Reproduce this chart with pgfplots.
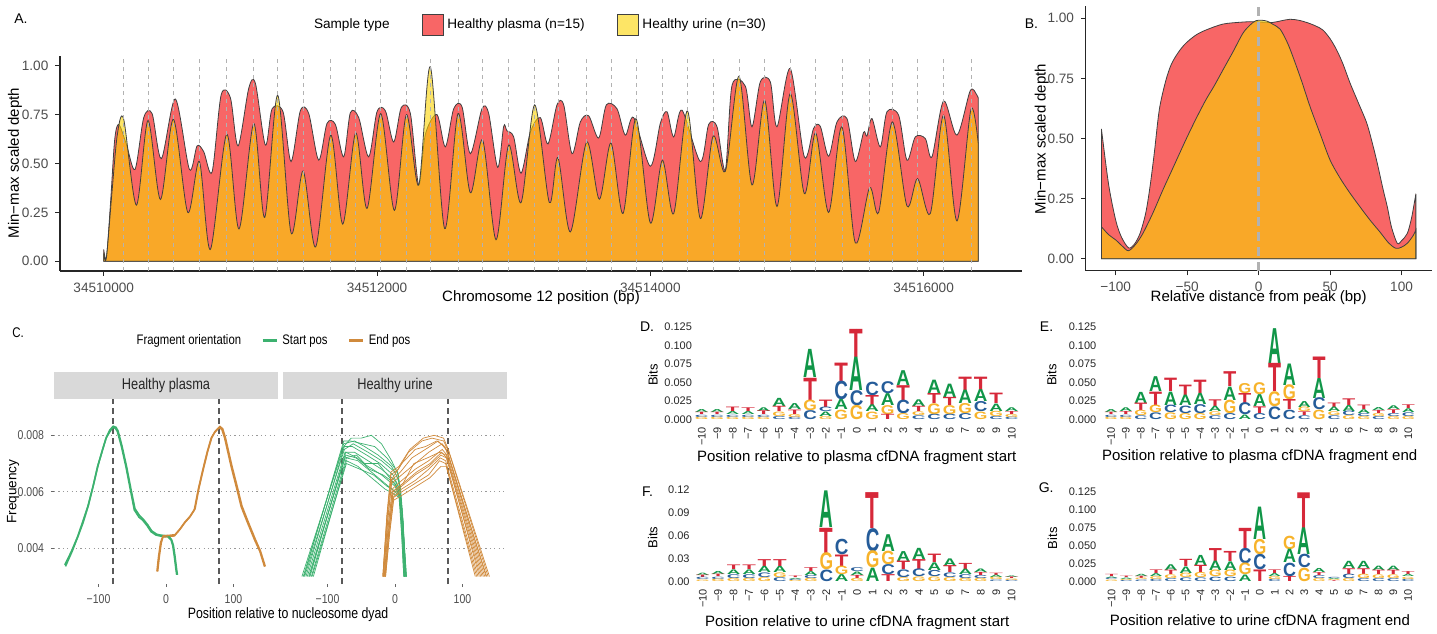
\documentclass[border=0pt]{standalone}
\usepackage{pgfplots}
\pgfplotsset{compat=1.18}
\usepackage{pgfplotstable}
\usepackage{graphicx}
\usepackage{fontspec}
\setmainfont{Liberation Sans}
\newfontfamily\cond[FakeStretch=0.82]{Liberation Sans}
\newcommand\fs[1]{\fontsize{#1}{#1}\selectfont}
\definecolor{plasma}{RGB}{248,102,102}
\definecolor{urine}{RGB}{251,212,0}
\definecolor{outl}{RGB}{64,64,64}
\definecolor{tickg}{RGB}{77,77,77}
\definecolor{colA}{RGB}{16,150,72}
\definecolor{colC}{RGB}{37,92,153}
\definecolor{colG}{RGB}{247,179,43}
\definecolor{colT}{RGB}{214,40,57}
\definecolor{sgreen}{RGB}{60,177,111}
\definecolor{sorange}{RGB}{208,138,60}
\definecolor{stripc}{RGB}{217,217,217}
\newdimen\bitunit
\def\letw{6.8pt}
\def\logoletter#1/#2\relax{\raisebox{-#2\bitunit}[0pt][0pt]{\textcolor{col#1}{\resizebox{\letw}{#2\bitunit}{\bfseries #1}}}}

% ---------------- Panel A data (x = position - 34510000) ----------------
\pgfplotstableread{
x y
0 0.06
20 0.02
50 0.30
80 0.62
110 0.70
165 0.60
229 0.47
293 0.735
354 0.755
422 0.525
524 0.83
627 0.47
683 0.59
732 0.56
793 0.457
859 0.85
927 0.836
983 0.59
1061 0.884
1110 0.91
1183 0.594
1232 0.78
1312 0.765
1371 0.51
1439 0.77
1500 0.756
1573 0.517
1634 0.705
1695 0.70
1756 0.534
1805 0.76
1866 0.735
1939 0.534
2000 0.765
2061 0.77
2122 0.61
2178 0.787
2244 0.756
2305 0.39
2354 0.65
2439 0.75
2500 0.585
2561 0.78
2622 0.79
2683 0.55
2768 0.78
2817 0.756
2883 0.48
2927 0.69
2951 0.667
3000 0.636
3054 0.45
3122 0.66
3195 0.735
3251 0.60
3317 0.80
3366 0.80
3427 0.55
3488 0.713
3549 0.744
3622 0.63
3678 0.80
3756 0.78
3817 0.645
3878 0.735
4000 0.486
4073 0.705
4122 0.765
4171 0.636
4232 0.773
4366 0.51
4427 0.70
4488 0.688
4549 0.466
4598 0.90
4695 0.896
4744 0.688
4805 0.918
4878 0.918
4927 0.688
5024 0.986
5127 0.534
5195 0.68
5244 0.69
5305 0.537
5366 0.713
5439 0.73
5500 0.51
5561 0.66
5585 0.64
5622 0.73
5683 0.585
5732 0.765
5817 0.747
5878 0.517
5939 0.636
6012 0.628
6061 0.534
6146 0.82
6244 0.645
6341 0.872
6390 0.85
6400 0.833
}\plasmaA

\pgfplotstableread{
x y
0 0.04
20 0.02
60 0.35
100 0.65
146 0.727
239 0.287
324 0.72
415 0.316
510 0.727
615 0.25
700 0.51
780 0.06
900 0.65
990 0.165
1098 0.705
1178 0.224
1273 0.85
1371 0.145
1459 0.462
1551 0.073
1661 0.645
1749 0.19
1844 0.657
1927 0.27
2027 0.756
2127 0.26
2215 0.75
2305 0.39
2390 0.995
2495 0.167
2593 0.756
2683 0.35
2773 0.62
2871 0.11
2963 0.594
3054 0.30
3154 0.80
3261 0.30
3324 0.53
3415 0.15
3534 0.61
3627 0.317
3712 0.605
3800 0.244
3895 0.73
4000 0.196
4088 0.517
4171 0.244
4271 0.77
4366 0.218
4459 0.64
4549 0.46
4649 0.947
4744 0.39
4837 0.824
4927 0.28
5024 0.858
5127 0.346
5210 0.657
5305 0.25
5402 0.688
5500 0.094
5605 0.377
5671 0.25
5771 0.713
5878 0.283
5956 0.423
6049 0.244
6146 0.747
6244 0.206
6346 0.776
6400 0.60
}\urineA

% ---------------- Logo data: height and letter/height, bottom to top ----------------
\pgfplotstableread{
x h1 m1 h2 m2 h3 m3 h4 m4
-10 .003 G/.003 .003 C/.003 .003 T/.003 .004 A/.004
-9 .003 G/.003 .003 C/.003 .003 T/.003 .004 A/.004
-8 .003 G/.003 .003 C/.003 .004 A/.004 .006 T/.006
-7 .003 G/.003 .003 C/.003 .004 A/.004 .005 T/.005
-6 .003 G/.003 .003 C/.003 .005 T/.005 .005 A/.005
-5 .004 C/.004 .006 G/.006 .007 T/.007 .011 A/.011
-4 .003 C/.003 .004 G/.004 .006 T/.006 .008 A/.008
-3 .012 C/.012 .014 G/.014 .030 T/.030 .038 A/.038
-2 .004 G/.004 .006 A/.006 .006 C/.006 .010 T/.010
-1 .0126 G/.0126 .0135 A/.0135 .0248 C/.0248 .0248 T/.0248
0 .019 G/.019 .020 C/.020 .045 A/.045 .038 T/.038
1 .010 G/.010 .009 A/.009 .0135 T/.0135 .018 C/.018
2 .007 T/.007 .012 G/.012 .016 A/.016 .016 C/.016
3 .008 G/.008 .018 C/.018 .020 T/.020 .020 A/.020
4 .005 C/.005 .005 G/.005 .007 T/.007 .009 A/.009
5 .007 C/.007 .0145 G/.0145 .0135 T/.0135 .018 A/.018
6 .007 C/.007 .012 G/.012 .011 T/.011 .018 A/.018
7 .008 C/.008 .0135 G/.0135 .018 A/.018 .018 T/.018
8 .010 G/.010 .0135 C/.0135 .016 A/.016 .018 T/.018
9 .004 C/.004 .007 G/.007 .010 A/.010 .014 T/.014
10 .003 C/.003 .004 G/.004 .004 T/.004 .005 A/.005
}\tabD

\pgfplotstableread{
x h1 m1 h2 m2 h3 m3 h4 m4
-10 .003 G/.003 .003 C/.003 .003 T/.003 .004 A/.004
-9 .003 G/.003 .003 C/.003 .004 T/.004 .005 A/.005
-8 .005 C/.005 .007 G/.007 .010 T/.010 .015 A/.015
-7 .009 C/.009 .010 G/.010 .018 T/.018 .020 A/.020
-6 .009 G/.009 .010 C/.010 .018 A/.018 .018 T/.018
-5 .008 G/.008 .010 C/.010 .014 A/.014 .014 T/.014
-4 .008 G/.008 .012 C/.012 .015 A/.015 .018 T/.018
-3 .005 C/.005 .005 G/.005 .007 A/.007 .009 T/.009
-2 .008 C/.008 .018 G/.018 .018 A/.018 .020 T/.020
-1 .006 A/.006 .016 C/.016 .0135 T/.0135 .0135 G/.0135
0 .008 C/.008 .009 T/.009 .016 A/.016 .016 G/.016
1 .017 C/.017 .020 G/.020 .038 T/.038 .047 A/.047
2 .0126 C/.0126 .0135 T/.0135 .020 G/.020 .029 A/.029
3 .005 C/.005 .005 T/.005 .006 G/.006 .008 A/.008
4 .0126 G/.0126 .016 C/.016 .027 A/.027 .029 T/.029
5 .005 C/.005 .005 G/.005 .006 A/.006 .006 T/.006
6 .005 G/.005 .006 C/.006 .008 A/.008 .009 T/.009
7 .004 G/.004 .004 C/.004 .005 A/.005 .006 T/.006
8 .004 C/.004 .004 G/.004 .004 T/.004 .004 A/.004
9 .004 G/.004 .004 C/.004 .005 T/.005 .005 A/.005
10 .004 G/.004 .005 C/.005 .005 A/.005 .005 T/.005
}\tabE

\pgfplotstableread{
x h1 m1 h2 m2 h3 m3 h4 m4
-10 .002 G/.002 .003 C/.003 .003 T/.003 .003 A/.003
-9 .003 G/.003 .003 C/.003 .003 T/.003 .004 A/.004
-8 .004 G/.004 .005 C/.005 .006 A/.006 .006 T/.006
-7 .004 G/.004 .005 C/.005 .006 A/.006 .006 T/.006
-6 .005 G/.005 .006 C/.006 .008 A/.008 .009 T/.009
-5 .005 C/.005 .006 G/.006 .008 A/.008 .009 T/.009
-4 .0015 G/.0015 .0015 C/.0015 .0015 A/.0015 .002 T/.002
-3 .004 G/.004 .004 C/.004 .005 A/.005 .005 T/.005
-2 .015 C/.015 .022 G/.022 .033 T/.033 .048 A/.048
-1 .009 A/.009 .011 G/.011 .015 T/.015 .020 C/.020
0 .004 G/.004 .004 T/.004 .0045 A/.0045 .005 C/.005
1 .0175 A/.0175 .022 G/.022 .030 C/.030 .047 T/.047
2 .009 T/.009 .013 C/.013 .0175 G/.0175 .022 A/.022
3 .005 G/.005 .010 C/.010 .011 T/.011 .013 A/.013
4 .006 G/.006 .010 C/.010 .013 T/.013 .0146 A/.0146
5 .006 G/.006 .008 C/.008 .010 A/.010 .011 T/.011
6 .005 G/.005 .006 C/.006 .009 T/.009 .010 A/.010
7 .004 G/.004 .005 C/.005 .007 A/.007 .008 T/.008
8 .004 G/.004 .004 C/.004 .004 T/.004 .0046 A/.0046
9 .002 C/.002 .003 G/.003 .003 A/.003 .003 T/.003
10 .0015 C/.0015 .002 G/.002 .002 T/.002 .002 A/.002
}\tabF

\pgfplotstableread{
x h1 m1 h2 m2 h3 m3 h4 m4
-10 .002 G/.002 .002 C/.002 .002 A/.002 .003 T/.003
-9 .0015 C/.0015 .0015 G/.0015 .002 A/.002 .002 T/.002
-8 .002 C/.002 .002 G/.002 .003 T/.003 .003 A/.003
-7 .003 C/.003 .004 G/.004 .004 A/.004 .005 T/.005
-6 .004 C/.004 .005 G/.005 .006 T/.006 .008 A/.008
-5 .005 C/.005 .006 G/.006 .009 A/.009 .010 T/.010
-4 .005 C/.005 .007 G/.007 .010 T/.010 .014 A/.014
-3 .006 C/.006 .009 G/.009 .013 A/.013 .018 T/.018
-2 .006 C/.006 .009 G/.009 .012 A/.012 .014 T/.014
-1 .009 A/.009 .016 G/.016 .021 C/.021 .028 T/.028
0 .016 T/.016 .021 C/.021 .021 G/.021 .045 A/.045
1 .003 C/.003 .004 G/.004 .004 A/.004 .005 T/.005
2 .007 T/.007 .0185 C/.0185 .0185 A/.0185 .0185 G/.0185
3 .0185 G/.0185 .0185 C/.0185 .037 A/.037 .0495 T/.0495
4 .004 G/.004 .004 C/.004 .004 T/.004 .0056 A/.0056
5 .001 T/.001 .0015 G/.0015 .0015 A/.0015 .0016 C/.0016
6 .004 G/.004 .006 C/.006 .008 T/.008 .010 A/.010
7 .004 C/.004 .006 G/.006 .008 T/.008 .010 A/.010
8 .004 C/.004 .005 G/.005 .006 T/.006 .006 A/.006
9 .004 C/.004 .005 G/.005 .006 T/.006 .006 A/.006
10 .003 C/.003 .003 G/.003 .003 A/.003 .004 T/.004
}\tabG

\pgfplotsset{
  classic/.style={scale only axis, anchor=south west,
    axis x line*=bottom, axis y line*=left,
    axis line style={-, line width=0.55pt, draw=black!85},
    tick align=outside, major tick length=2.3pt,
    tick style={black!85, line width=0.5pt},
    tick label style={font=\fs{6.8}, text=tickg},
    label style={font=\fs{7.5}},
    ymin=-0.05, ymax=1.05, ytick={0,0.25,0.5,0.75,1},
    yticklabels={0.00,0.25,0.50,0.75,1.00},
    axis on top},
  cpanel/.style={scale only axis, anchor=south west, width=112pt, height=92.5pt,
    xmin=-166, xmax=166, ymin=0.002736, ymax=0.009285,
    axis line style={draw=none}, tick align=outside, major tick length=1.5pt,
    tick style={black!60, line width=0.4pt},
    xtick={-100,0,100}, xticklabels={−100,0,100},
    ytick={0.004,0.006,0.008},
    xtick pos=bottom, ytick pos=left,
    tick label style={font=\cond\fs{6.4}, text=tickg},
    ymajorgrids,
    every axis y grid/.style={black!40, line width=0.45pt, dash pattern=on 0.6pt off 1.6pt},
    extra x ticks={-78.5,78.5}, extra x tick labels={},
    extra x tick style={grid=major, major tick length=0pt},
    every axis x grid/.style={black!65, line width=0.55pt, dash pattern=on 3pt off 2pt},
    every axis title/.style={at={(axis description cs:0.5,1)}, anchor=south, fill=stripc,
      minimum width=112pt, minimum height=13.15pt, inner sep=0pt, font=\cond\fs{7.8}, text=black!85}},
  pl/.style={line width=0.8pt},
  ul/.style={line width=0.35pt},
  logo/.style={scale only axis, anchor=south west, clip=false,
    axis line style={draw=none}, major tick length=0pt,
    xmin=-10.5, xmax=10.5, ymin=0,
    xtick={-10,-9,-8,-7,-6,-5,-4,-3,-2,-1,0,1,2,3,4,5,6,7,8,9,10},
    xticklabels={−10,−9,−8,−7,−6,−5,−4,−3,−2,−1,0,1,2,3,4,5,6,7,8,9,10},
    xticklabel style={font=\fs{5.5}, text=black!85, inner sep=0pt, yshift=-3.7pt, rotate=90, anchor=east},
    yticklabel style={font=\fs{5.5}, text=black!85, inner sep=0pt},
    xlabel style={font=\fs{7.5}, anchor=center},
    ylabel style={font=\fs{6.5}, anchor=center},
    stack plots=y},
  letters/.style={only marks, mark=*, mark size=0pt, mark options={draw=none, fill=none},
    point meta=explicit symbolic,
    nodes near coords={\edef\lmeta{\pgfplotspointmeta}\expandafter\logoletter\lmeta\relax},
    every node near coord/.style={inner sep=0pt, outer sep=0pt, anchor=center}},
}
\newcommand\logo[1]{%
  \addplot[letters] table[x=x, y=h1, meta=m1]{#1};
  \addplot[letters] table[x=x, y=h2, meta=m2]{#1};
  \addplot[letters] table[x=x, y=h3, meta=m3]{#1};
  \addplot[letters] table[x=x, y=h4, meta=m4]{#1};
}

\begin{document}
\begin{tikzpicture}
\path[use as bounding box] (0,0) rectangle (718.5pt,316.5pt);

% ================= Panel A =================
\begin{axis}[classic, at={(30pt,181pt)}, width=481pt, height=107.5pt,
  xmin=-320, xmax=6720,
  xtick={0,2000,4000,6000}, xticklabels={34510000,34512000,34514000,34516000},
  xlabel={Chromosome 12 position (bp)}, ylabel={Min−max scaled depth},
  xlabel style={at={(axis description cs:0.5,-0.1256)}, anchor=center},
  ylabel style={at={(axis description cs:-0.0468,0.502)}, anchor=center},
  extra x ticks={146,325,510,700,900,1098,1273,1459,1661,1844,2027,2215,2390,2593,2773,2963,3154,3325,3534,3713,3896,4088,4271,4459,4649,4837,5024,5210,5403,5605,5771,5956,6146,6347},
  extra x tick labels={},
  extra x tick style={grid=major, major tick length=0pt},
  every axis x grid/.style={gray!60, line width=0.4pt, dash pattern=on 2pt off 2pt},
  legend style={at={(0.499,1.144)}, anchor=center, draw=none, fill=none,
    legend columns=3, font=\fs{6.8},
    /tikz/every even column/.append style={column sep=14pt}},
  legend image code/.code={\draw[#1, draw=outl, line width=0.4pt] (0pt,-5.25pt) rectangle (10.5pt,5.25pt);},
]
\addlegendimage{empty legend}\addlegendentry{Sample type}
\addplot[fill=plasma, draw=outl, line width=0.4pt, smooth] table {\plasmaA} \closedcycle;
\addlegendentry{Healthy plasma (n=15)}
\addplot[fill=urine, fill opacity=0.6, draw=outl, line width=0.4pt, smooth] table {\urineA} \closedcycle;
\addlegendentry{Healthy urine (n=30)}
\end{axis}

% ================= Panel B =================
\begin{axis}[classic, at={(542.85pt,181.15pt)}, width=172.95pt, height=132.2pt,
  xmin=-121, xmax=121,
  xtick={-100,-50,0,50,100}, xticklabels={−100,−50,0,50,100},
  xlabel={Relative distance from peak (bp)}, ylabel={Min−max scaled depth},
  xlabel style={at={(axis description cs:0.5,-0.103)}, anchor=center},
  ylabel style={at={(axis description cs:-0.127,0.498)}, anchor=center},
  extra x ticks={0}, extra x tick labels={},
  extra x tick style={grid=major, major tick length=0pt},
  every axis x grid/.style={gray!60, line width=1.4pt, dash pattern=on 4.5pt off 3pt},
]
\addplot[fill=plasma, draw=outl, line width=0.4pt, smooth] coordinates {
(-110,0.54) (-105,0.31) (-100,0.16) (-96,0.09) (-91,0.045) (-87,0.06) (-83,0.105) (-79,0.19)
(-76,0.30) (-73,0.44) (-69.5,0.62) (-65,0.74) (-61,0.81) (-56,0.86) (-51,0.896) (-44,0.93)
(-37,0.951) (-25,0.976) (-12,0.984) (-4,0.986) (3,0.984) (10,0.983) (16,0.99) (22,0.996)
(28,0.992) (34,0.982) (40,0.968) (45,0.951) (50,0.915) (54.6,0.868) (59,0.81) (64,0.73)
(70,0.645) (75.7,0.563) (80,0.47) (83,0.397) (87,0.29) (90,0.216) (93,0.13) (97,0.064)
(100,0.075) (104,0.105) (107,0.17) (110,0.27)} \closedcycle;
\addplot[fill=urine, fill opacity=0.6, draw=outl, line width=0.4pt, smooth] coordinates {
(-110,0.133) (-105,0.10) (-100,0.078) (-95,0.05) (-91,0.033) (-86,0.06) (-81,0.105) (-74,0.19)
(-67,0.286) (-59,0.39) (-51,0.494) (-44,0.58) (-37,0.66) (-31,0.72) (-25,0.785) (-18,0.86)
(-11,0.938) (-6,0.972) (-2,0.99) (2,0.992) (6,0.988) (10,0.975) (15,0.955) (20,0.90)
(24,0.84) (30,0.74) (36,0.632) (43,0.52) (50,0.41) (57,0.335) (64,0.272) (71,0.215)
(78,0.16) (85,0.11) (91,0.065) (96,0.043) (100,0.048) (104,0.064) (108,0.095) (110,0.12)} \closedcycle;
\end{axis}

% ================= Panel C: plasma =================
\begin{axis}[cpanel, at={(27pt,24.5pt)},
  yticklabels={0.004,0.006,0.008},
  title={Healthy plasma},
  ylabel={Frequency}, ylabel style={font=\fs{6.8}, at={(axis description cs:-0.183,0.499)}, anchor=center},
  xlabel={Position relative to nucleosome dyad},
  xlabel style={font=\cond\fs{7.5}, at={(axis description cs:1.045,-0.168)}, anchor=center},
  legend style={at={(0.98,1.315)}, anchor=center, draw=none, fill=none,
    legend columns=3, font=\cond\fs{6.9},
    /tikz/every even column/.append style={column sep=8pt}},
  legend image code/.code={\draw[#1, line width=1.6pt] (0pt,0pt) -- (7pt,0pt);},
]
\addlegendimage{empty legend}\addlegendentry{Fragment orientation}
\addplot[sgreen, pl] coordinates {
(-150,0.00341) (-140,0.0039) (-131,0.00441) (-124,0.0049) (-116,0.00547) (-108,0.0062)
(-101.5,0.00689) (-95,0.0074) (-89,0.00789) (-84,0.0081) (-79,0.00828) (-75,0.00825)
(-72,0.00813) (-66,0.0076) (-59.4,0.00689) (-53,0.0061) (-47,0.00536) (-40,0.0051)
(-34.7,0.0050) (-28,0.0048) (-22.3,0.00459) (-15,0.00447) (-10,0.00444) (-3,0.00442)
(2.5,0.00441) (7.4,0.0043) (10,0.0041) (12.4,0.00371) (14.5,0.0033) (15.9,0.00306)};
\addlegendentry{Start pos}
\addplot[sorange, pl] coordinates {
(-13.4,0.00318) (-11,0.0037) (-8,0.0042) (-5,0.0044) (0,0.00441) (5,0.00442) (12.4,0.00444)
(20,0.00465) (27.2,0.00489) (35,0.0051) (42,0.00536) (48,0.0061) (54.5,0.00677) (61,0.0074)
(66.9,0.00789) (72,0.0081) (79,0.00828) (83,0.0082) (87,0.0079) (96.6,0.00689) (104,0.0062)
(111.5,0.00547) (121,0.0049) (131.3,0.0043) (139,0.0039) (146.1,0.00335)};
\addlegendentry{End pos}
\addplot[sgreen, pl, forget plot] coordinates {
(-149,0.00336) (-139,0.0039) (-130,0.00445) (-123,0.0049) (-115,0.00552) (-107,0.0063)
(-100.5,0.00695) (-94,0.0075) (-88,0.00795) (-83,0.0082) (-78,0.00832) (-74,0.00828)
(-71,0.00815) (-65,0.0076) (-58.4,0.00689) (-52,0.0061) (-46,0.0054) (-39,0.00515)
(-33.7,0.00503) (-27,0.00483) (-21.3,0.00462) (-14,0.0045) (-9,0.00447) (-2,0.00445)
(3.5,0.00444) (8.4,0.0043) (11,0.0041) (13.4,0.00371) (15.5,0.0033) (16.9,0.00306)};
\addplot[sorange, pl, forget plot] coordinates {
(-12.4,0.00318) (-10,0.0037) (-7,0.0042) (-4,0.00444) (1,0.00445) (6,0.00446) (13.4,0.00448)
(21,0.00469) (28.2,0.00493) (36,0.00514) (43,0.0054) (49,0.00615) (55.5,0.00682) (62,0.00745)
(67.9,0.00793) (73,0.00814) (80,0.00831) (84,0.00823) (88,0.00792) (97.6,0.00692) (105,0.00623)
(112.5,0.0055) (122,0.00492) (132.3,0.00432) (140,0.0039) (147.1,0.00336)};
\end{axis}

% ================= Panel C: urine =================
\begin{axis}[cpanel, at={(141.5pt,24.5pt)},
  yticklabels={}, ytick style={draw=none},
  title={Healthy urine},
]
\addplot[sgreen, ul] coordinates {(-138,0.0030) (-76,0.0076) (-65,0.0079) (-50,0.0079) (-35,0.0080) (-20,0.0077) (-5,0.0071) (5,0.0066) (10,0.0055) (17,0.0030)};
\addplot[sgreen, ul] coordinates {(-134,0.0030) (-75,0.0075) (-62,0.0077) (-40,0.0074) (-20,0.0071) (0,0.0067) (8,0.0062) (12,0.0050) (16,0.0030)};
\addplot[sgreen, ul] coordinates {(-130,0.0030) (-74,0.0074) (-60,0.0074) (-40,0.0071) (-20,0.0068) (0,0.0064) (8,0.0060) (12,0.0048) (15,0.0030)};
\addplot[sgreen, ul] coordinates {(-127,0.0030) (-73,0.0073) (-58,0.0072) (-40,0.0069) (-20,0.0066) (0,0.0062) (7,0.0058) (11,0.0046) (14,0.0030)};
\addplot[sgreen, ul] coordinates {(-124,0.0030) (-72,0.0072) (-55,0.0071) (-35,0.0067) (-15,0.0063) (0,0.0060) (7,0.0058) (11,0.0045) (14,0.0030)};
\addplot[sgreen, ul] coordinates {(-121,0.0030) (-72,0.0071) (-55,0.0069) (-35,0.0065) (-15,0.0061) (0,0.0059) (6,0.0058) (10,0.0044) (13,0.0030)};
\addplot[sgreen, ul] coordinates {(-136,0.0030) (-76,0.0077) (-60,0.0078) (-45,0.0076) (-25,0.0073) (-5,0.0069) (6,0.0064) (11,0.0052) (16,0.0030)};
\addplot[sgreen, ul] coordinates {(-128,0.0030) (-74,0.0072) (-57,0.0073) (-45,0.0070) (-25,0.0070) (-8,0.0065) (5,0.0061) (10,0.0049) (15,0.0030)};
\addplot[sgreen, ul] coordinates {(-132,0.0030) (-75,0.0076) (-63,0.0076) (-42,0.0073) (-22,0.0070) (-3,0.0066) (7,0.0061) (12,0.0049) (16,0.0030)};
\addplot[sgreen, ul] coordinates {(-126,0.0030) (-73,0.0074) (-56,0.0072) (-38,0.0068) (-18,0.0066) (0,0.0063) (7,0.0059) (11,0.0047) (14,0.0030)};
\addplot[sgreen, ul] coordinates {(-135,0.0030) (-76,0.0078) (-66,0.0078) (-48,0.0077) (-30,0.0076) (-12,0.0072) (4,0.0067) (10,0.0054) (17,0.0030)};
\addplot[sgreen, ul] coordinates {(-123,0.0030) (-72,0.0070) (-52,0.0068) (-32,0.0066) (-12,0.0062) (2,0.0060) (7,0.0059) (10,0.0045) (13,0.0030)};
\addplot[sorange, ul] coordinates {(-18,0.0030) (-12,0.0050) (-6,0.0066) (5,0.0068) (20,0.0074) (40,0.0078) (55,0.0079) (72,0.0078) (80,0.0074) (138,0.0030)};
\addplot[sorange, ul] coordinates {(-17,0.0030) (-11,0.0049) (-5,0.0063) (10,0.0066) (30,0.0070) (50,0.0074) (70,0.0077) (78,0.0074) (135,0.0030)};
\addplot[sorange, ul] coordinates {(-16,0.0030) (-10,0.0048) (-4,0.0061) (10,0.0064) (30,0.0068) (50,0.0071) (70,0.0075) (77,0.0073) (131,0.0030)};
\addplot[sorange, ul] coordinates {(-15,0.0030) (-9,0.0047) (-3,0.0059) (10,0.0062) (30,0.0066) (50,0.0069) (68,0.0073) (76,0.0072) (127,0.0030)};
\addplot[sorange, ul] coordinates {(-15,0.0030) (-9,0.0046) (-3,0.0058) (10,0.0061) (30,0.0064) (50,0.0068) (67,0.0072) (75,0.0071) (123,0.0030)};
\addplot[sorange, ul] coordinates {(-14,0.0030) (-8,0.0046) (-2,0.0058) (10,0.0060) (30,0.0063) (50,0.0066) (66,0.0071) (75,0.0070) (119,0.0030)};
\addplot[sorange, ul] coordinates {(-18,0.0030) (-12,0.0051) (-6,0.0064) (10,0.0070) (30,0.0075) (45,0.0076) (62,0.0078) (74,0.0076) (80,0.0072) (136,0.0030)};
\addplot[sorange, ul] coordinates {(-16,0.0030) (-10,0.0048) (-4,0.0060) (12,0.0063) (28,0.0070) (48,0.0072) (66,0.0074) (76,0.0073) (129,0.0030)};
\addplot[sorange, ul] coordinates {(-17,0.0030) (-11,0.0050) (-5,0.0064) (8,0.0067) (25,0.0072) (45,0.0075) (64,0.0078) (76,0.0075) (133,0.0030)};
\addplot[sorange, ul] coordinates {(-15,0.0030) (-9,0.0047) (-3,0.0060) (12,0.0063) (32,0.0067) (52,0.0070) (69,0.0074) (77,0.0072) (125,0.0030)};
\addplot[sorange, ul] coordinates {(-18,0.0030) (-12,0.0052) (-6,0.0067) (6,0.0069) (22,0.0075) (42,0.0079) (58,0.0080) (72,0.0079) (79,0.0075) (140,0.0030)};
\addplot[sorange, ul] coordinates {(-14,0.0030) (-8,0.0045) (-2,0.0057) (12,0.0059) (32,0.0062) (52,0.0065) (68,0.0069) (76,0.0069) (121,0.0030)};
\end{axis}

% ================= Panel D =================
\global\bitunit=370.4pt \gdef\letw{6.8pt}
\begin{axis}[logo, at={(346.98pt,106.85pt)}, width=162.75pt, height=48.15pt, ymax=0.13,
  ytick={0,0.025,0.05,0.075,0.1,0.125}, yticklabels={0.000,0.025,0.050,0.075,0.100,0.125},
  yticklabel style={xshift=-0.8pt},
  xlabel={Position relative to plasma cfDNA fragment start},
  xlabel style={at={(axis description cs:0.5,-0.399)}},
  ylabel={Bits}, ylabel style={at={(axis description cs:-0.126,0.46)}},
]
\logo{\tabD}
\end{axis}

% ================= Panel E =================
\global\bitunit=370.4pt \gdef\letw{6.5pt}
\begin{axis}[logo, at={(551.8pt,106.85pt)}, width=156.1pt, height=48.15pt, ymax=0.13,
  ytick={0,0.025,0.05,0.075,0.1,0.125}, yticklabels={0.000,0.025,0.050,0.075,0.100,0.125},
  yticklabel style={xshift=-3.45pt},
  xlabel={Position relative to plasma cfDNA fragment end},
  xlabel style={at={(axis description cs:0.5,-0.388)}},
  ylabel={Bits}, ylabel style={at={(axis description cs:-0.166,0.46)}},
]
\logo{\tabE}
\end{axis}

% ================= Panel F =================
\global\bitunit=381.7pt \gdef\letw{6.8pt}
\begin{axis}[logo, at={(347.5pt,25.85pt)}, width=162.2pt, height=47.71pt, ymax=0.125,
  ytick={0,0.03,0.06,0.09,0.12}, yticklabels={0.00,0.03,0.06,0.09,0.12},
  yticklabel style={xshift=-2.5pt},
  xlabel={Position relative to urine cfDNA fragment start},
  xlabel style={at={(axis description cs:0.5,-0.437)}},
  ylabel={Bits}, ylabel style={at={(axis description cs:-0.13,0.46)}},
]
\logo{\tabF}
\end{axis}

% ================= Panel G =================
\global\bitunit=360pt \gdef\letw{6.5pt}
\begin{axis}[logo, at={(552.1pt,25.85pt)}, width=155.7pt, height=46.8pt, ymax=0.13,
  ytick={0,0.025,0.05,0.075,0.1,0.125}, yticklabels={0.000,0.025,0.050,0.075,0.100,0.125},
  yticklabel style={xshift=-3.75pt},
  xlabel={Position relative to urine cfDNA fragment end},
  xlabel style={at={(axis description cs:0.5,-0.435)}},
  ylabel={Bits}, ylabel style={at={(axis description cs:-0.166,0.46)}},
]
\logo{\tabG}
\end{axis}

% panel letters
\node[font=\fs{7}] at (10.5pt,307pt) {A.};
\node[font=\fs{7}] at (515.75pt,304.85pt) {B.};
\node[font=\cond\fs{7}] at (9pt,150.15pt) {C.};
\node[font=\fs{7}] at (323.5pt,153.15pt) {D.};
\node[font=\fs{7}] at (523.3pt,153.15pt) {E.};
\node[font=\fs{7}] at (323.8pt,70.85pt) {F.};
\node[font=\fs{7}] at (523.1pt,72.5pt) {G.};
\end{tikzpicture}
\end{document}
